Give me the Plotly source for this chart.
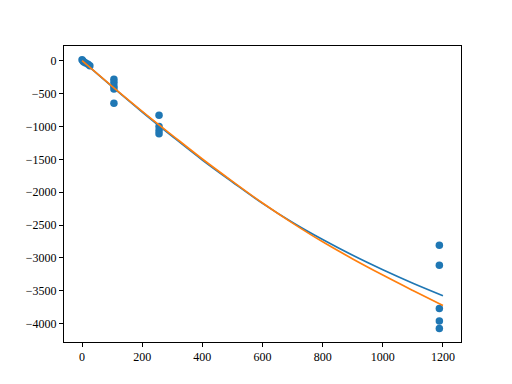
import plotly.graph_objects as go

# Observed data points
obs_x = [0, 3, 6, 12, 20, 26,
         106, 106, 106, 106, 106,
         256, 256, 256, 256,
         1188, 1188, 1188, 1188, 1188]
obs_y = [15, -5, -20, -35, -55, -75,
         -280, -330, -390, -430, -646,
         -830, -1000, -1060, -1110,
         -2806, -3111, -3770, -3959, -4075]

# Fitted curves
fit_x = [0, 100, 200, 300, 400, 500, 600, 700, 800, 900, 1000, 1100, 1200]
fit_blue = [0, -395, -780, -1150, -1510, -1845, -2170, -2460, -2720, -2960, -3180, -3385, -3575]
fit_orange = [0, -390, -770, -1135, -1495, -1835, -2165, -2470, -2755, -3015, -3260, -3495, -3725]

x_ticks = [0, 200, 400, 600, 800, 1000, 1200]
y_ticks = [0, -500, -1000, -1500, -2000, -2500, -3000, -3500, -4000]

fig = go.Figure()
fig.add_trace(go.Scatter(x=obs_x, y=obs_y, mode="markers",
                         marker=dict(color="#1f77b4", size=7.5, line=dict(width=0)),
                         showlegend=False))
fig.add_trace(go.Scatter(x=fit_x, y=fit_blue, mode="lines", line_shape="spline",
                         line=dict(color="#1f77b4", width=1.7), showlegend=False))
fig.add_trace(go.Scatter(x=fit_x, y=fit_orange, mode="lines", line_shape="spline",
                         line=dict(color="#ff7f0e", width=1.7), showlegend=False))

axis_common = dict(showgrid=False, zeroline=False, showline=True, linecolor="black",
                   linewidth=1, mirror=True, ticks="outside", ticklen=4, tickwidth=1,
                   tickcolor="black",
                   tickfont=dict(family="Liberation Serif, DejaVu Serif, serif", size=12, color="black"))

fig.update_xaxes(range=[-60, 1260], tickvals=x_ticks, ticktext=[str(v) for v in x_ticks],
                 **axis_common)
fig.update_yaxes(range=[-4279, 224], tickvals=y_ticks,
                 ticktext=[("\u2212" + str(-v)) if v < 0 else str(v) for v in y_ticks],
                 **axis_common)

fig.update_layout(width=512, height=384, margin=dict(l=64, r=51, t=46, b=42, pad=0),
                  plot_bgcolor="white", paper_bgcolor="white")

fig.write_html("out.html", config={"displayModeBar": False},
               post_script="document.body.style.margin='0';document.body.style.overflow='hidden';")
